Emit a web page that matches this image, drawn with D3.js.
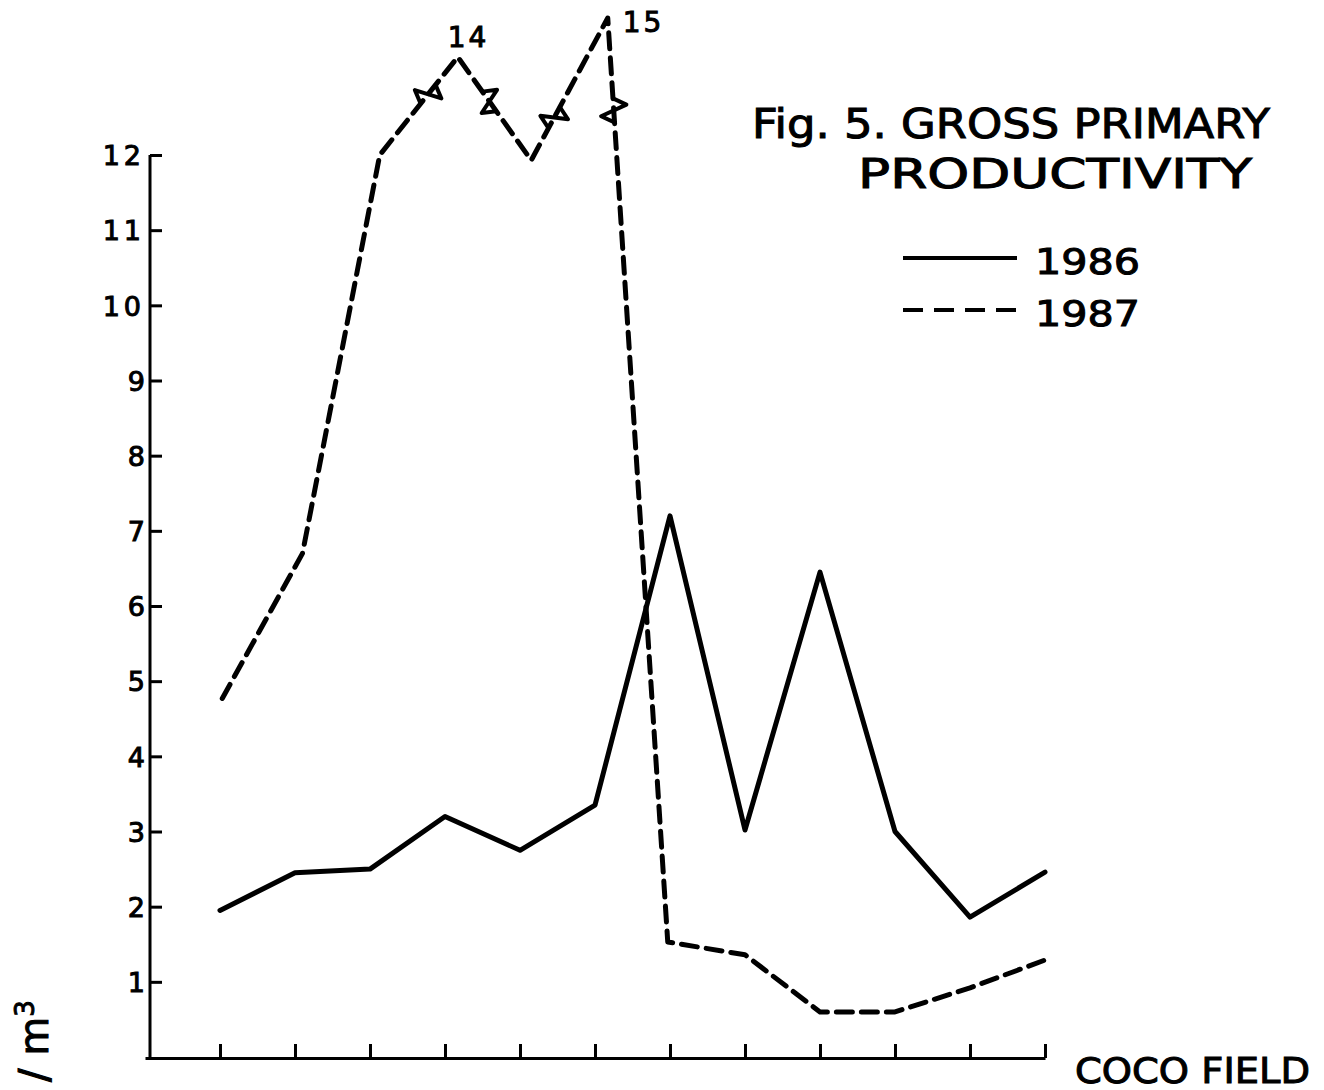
<!DOCTYPE html>
<html lang="en">
<head>
<meta charset="UTF-8">
<script src="https://cdn.jsdelivr.net/npm/d3@7"></script>
<title>Gross Primary Productivity</title>
<style>
  body { margin: 0; background: #fff; }
  svg text { font-family: "DejaVu Sans", sans-serif; fill: #000; stroke: #000; stroke-width: 1px; }
  .axis path, .axis line { stroke: #000; stroke-width: 3px; }
</style>
</head>
<body>
<div id="container"></div>
<script>
  // stations along the coco field (x position)
  var stations1986 = [1, 2, 3, 4, 5, 6, 7, 8, 9, 10, 11, 12];
  var values1986 = [1.95, 2.45, 2.5, 3.2, 2.75, 3.35, 7.2, 3.02, 6.45, 3.0, 1.86, 2.46];

  var stations1987 = [1.03, 2.1, 3.13, 4.17, 5.15, 6.17, 6.97, 8, 9, 10, 11, 12];
  var values1987 = [4.77, 6.7, 12, 14, 11.93, 15, 1.53, 1.36, 0.6, 0.6, 0.92, 1.29];

  // scale breaks on the 1987 line: [segment index, fraction along segment]
  var breaks1987 = [[2, 0.62], [3, 0.43], [4, 0.3], [5, 0.1]];
  // values above 12 written on the peaks
  var peakLabels = [{i: 3, text: "14", dx: -10, dy: -10}, {i: 5, text: "15", dx: 15, dy: 14}];

  var yTicks = [1, 2, 3, 4, 5, 6, 7, 8, 9, 10, 11, 12];
  var xTicks = [1, 2, 3, 4, 5, 6, 7, 8, 9, 10, 11, 12];

  const width = 1324, height = 1090;

  const svg = d3.select("#container").append("svg")
      .attr("width", width).attr("height", height);

  var xScale = d3.scaleLinear().domain([0, 12]).range([145, 1045]);
  // broken scale: compressed above 12
  var yScale = d3.scaleLinear().domain([0, 12, 14, 15]).range([1057, 155, 57, 18]);
  var yAxisScale = d3.scaleLinear().domain([0, 12]).range([1057, 155]);

  // x axis, ticks pointing up, no labels
  svg.append("g").attr("class", "axis")
      .attr("transform", "translate(0,1058)")
      .call(d3.axisBottom(xScale).tickValues(xTicks).tickSize(-14).tickSizeOuter(0).tickFormat(""));

  // y axis, ticks pointing in
  var gy = svg.append("g").attr("class", "axis")
      .attr("transform", "translate(150,0)")
      .call(d3.axisLeft(yAxisScale).tickValues(yTicks).tickSize(-12).tickSizeOuter(0).tickPadding(0));
  gy.selectAll(".tick text").remove();
  gy.selectAll(".tick").append("text")
      .attr("x", -5).attr("dy", "0.36em")
      .attr("text-anchor", "end")
      .style("font-size", "27px")
      .style("letter-spacing", function(d){ return d >= 10 ? "4px" : "0px"; })
      .text(function(d){ return d; });
  gy.select(".domain").attr("d", "M0,1057V155");

  var data86 = stations1986.map(function(s, i){ return [xScale(s), yScale(values1986[i])]; });
  var data87 = stations1987.map(function(s, i){ return [xScale(s), yScale(values1987[i])]; });

  var line = d3.line();

  svg.append("path").attr("d", line(data86))
      .attr("fill", "none").attr("stroke", "#000").attr("stroke-width", 5)
      .attr("stroke-linejoin", "round").attr("stroke-linecap", "round");

  svg.append("path").attr("d", line(data87))
      .attr("fill", "none").attr("stroke", "#000").attr("stroke-width", 5)
      .attr("stroke-dasharray", "16,9")
      .attr("stroke-linejoin", "round").attr("stroke-linecap", "round");

  // break symbols
  breaks1987.forEach(function(b){
    var p0 = data87[b[0]], p1 = data87[b[0] + 1];
    var px = p0[0] + (p1[0] - p0[0]) * b[1];
    var py = p0[1] + (p1[1] - p0[1]) * b[1];
    var ang = Math.atan2(p1[1] - p0[1], p1[0] - p0[0]) * 180 / Math.PI;
    svg.append("path")
        .attr("d", "M-12,0 L-5,-13 L5,13 L12,0")
        .attr("transform", "translate(" + px + "," + py + ") rotate(" + ang + ")")
        .attr("fill", "none").attr("stroke", "#000").attr("stroke-width", 4)
        .attr("stroke-linejoin", "round").attr("stroke-linecap", "round");
  });

  peakLabels.forEach(function(l){
    svg.append("text")
        .attr("x", data87[l.i][0] + l.dx).attr("y", data87[l.i][1] + l.dy)
        .attr("text-anchor", "start")
        .style("font-size", "28px").style("letter-spacing", "3px")
        .text(l.text);
  });

  // title
  svg.append("text").attr("x", 752).attr("y", 138)
      .attr("textLength", 518).attr("lengthAdjust", "spacingAndGlyphs")
      .style("font-size", "40px").text("Fig. 5. GROSS PRIMARY");
  svg.append("text").attr("x", 858).attr("y", 188)
      .attr("textLength", 394).attr("lengthAdjust", "spacingAndGlyphs")
      .style("font-size", "40px").text("PRODUCTIVITY");

  // legend
  var legendItems = [{label: "1986", dash: null, y: 258}, {label: "1987", dash: "20,11", y: 310}];
  legendItems.forEach(function(d){
    svg.append("line").attr("x1", 903).attr("x2", 1017).attr("y1", d.y).attr("y2", d.y)
        .attr("stroke", "#000").attr("stroke-width", 4)
        .attr("stroke-dasharray", d.dash);
    svg.append("text").attr("x", 1035).attr("y", d.y + 16)
        .attr("textLength", 105).attr("lengthAdjust", "spacingAndGlyphs")
        .style("font-size", "36px").text(d.label);
  });

  // x label
  svg.append("text").attr("x", 1075).attr("y", 1083)
      .attr("textLength", 235).attr("lengthAdjust", "spacingAndGlyphs")
      .style("font-size", "36px").text("COCO FIELD");

  // y label (cut at the edge of the page)
  var yl = svg.append("text").attr("transform", "translate(48,1082) rotate(-90)")
      .style("font-size", "40px");
  yl.append("tspan").text("/ m");
  yl.append("tspan").attr("dy", "-14").style("font-size", "26px").text("3");
</script>
</body>
</html>
